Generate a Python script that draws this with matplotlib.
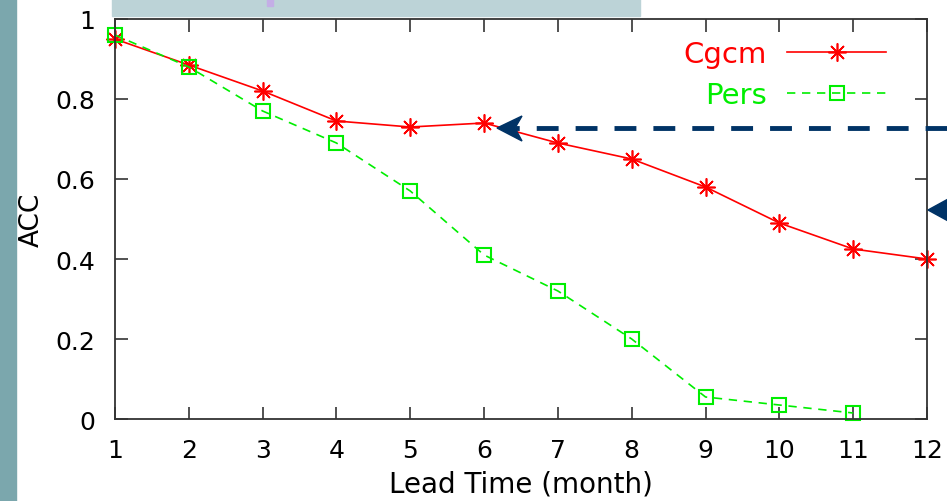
import matplotlib
matplotlib.use('Agg')
import matplotlib.pyplot as plt
from matplotlib.patches import Rectangle, Polygon
from matplotlib.lines import Line2D

# datos
lead_time = [1, 2, 3, 4, 5, 6, 7, 8, 9, 10, 11, 12]
acc_cgcm = [0.95, 0.885, 0.82, 0.745, 0.73, 0.74, 0.69, 0.65, 0.58, 0.49, 0.425, 0.40]
lead_pers = [1, 2, 3, 4, 5, 6, 7, 8, 9, 10, 11]
acc_pers = [0.96, 0.88, 0.77, 0.69, 0.57, 0.41, 0.32, 0.20, 0.055, 0.035, 0.015]
yticks = [0, 0.2, 0.4, 0.6, 0.8, 1]
ytick_labels = ['0', '0.2', '0.4', '0.6', '0.8', '1']

W, H = 947, 502
plt.rcParams['font.family'] = ['DejaVu Sans']

def fx(px):
    return px / W

def fy(py):
    return 1 - py / H

fig = plt.figure(figsize=(W / 100, H / 100), dpi=100)
ax = fig.add_axes([fx(115), fy(420), fx(927) - fx(115), fy(20) - fy(420)])

ax.plot(lead_time, acc_cgcm, color='#ff0000', lw=1.2, marker=(8, 2, 0),
        markersize=13, markeredgewidth=1.2, label='Cgcm', clip_on=False)
ax.plot(lead_pers, acc_pers, color='#00ee00', lw=1.2, ls=(0, (5, 4)), marker='s',
        markersize=10, markerfacecolor='none', markeredgewidth=1.5, label='Pers',
        clip_on=False)

ax.set_xlim(1, 12)
ax.set_ylim(0, 1)
ax.set_xticks(lead_time)
ax.set_yticks(yticks)
ax.set_yticklabels(ytick_labels)
ax.tick_params(direction='in', length=9, width=1.2, labelsize=18, pad=14,
               top=True, right=True, colors='#333333', labelcolor='black')
for s in ax.spines.values():
    s.set_color('#333333')
    s.set_linewidth(1.3)

ax.set_xlabel('Lead Time (month)', fontsize=20, labelpad=5)
ax.set_ylabel('ACC', fontsize=19, labelpad=8)

leg = ax.legend(loc='upper right', frameon=False, markerfirst=False, fontsize=21,
                handlelength=3.4, labelspacing=0.45, handletextpad=0.7,
                bbox_to_anchor=(0.982, 1.013))
for txt, c in zip(leg.get_texts(), ['#ff0000', '#00ee00']):
    txt.set_color(c)

# adornos de la diapositiva
fig.add_artist(Rectangle((0, 0), fx(16), 1, color='#7ba7ad', zorder=0))
fig.add_artist(Rectangle((fx(112), fy(17)), fx(640) - fx(112), fy(0) - fy(17),
                         color='#bcd3d7', zorder=0))
fig.add_artist(Rectangle((fx(267), fy(7)), fx(6), fy(0) - fy(7), color='#c4aee6', zorder=1))

navy = '#003366'
fig.add_artist(Line2D([fx(947), fx(515)], [fy(129), fy(129)], color=navy, lw=3.5,
                      ls=(0, (4.5, 3.5)), zorder=5))
fig.add_artist(Polygon([(fx(497), fy(129)), (fx(522), fy(117)), (fx(515), fy(129)),
                        (fx(522), fy(142))], closed=True, color=navy, zorder=5))
fig.add_artist(Polygon([(fx(928), fy(211)), (fx(950), fy(199)), (fx(950), fy(223))],
                       closed=True, color=navy, zorder=5))

fig.savefig('out.png', dpi=100)
